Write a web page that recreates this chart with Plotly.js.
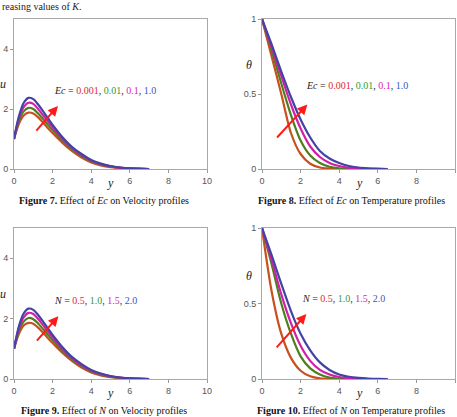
<!DOCTYPE html>
<html>
<head>
<meta charset="utf-8">
<script src="https://cdn.plot.ly/plotly-3.0.1.min.js"></script>
<style>html,body{margin:0;padding:0;background:#fff;}#chart{width:457px;height:417px;}</style>
</head>
<body>
<div id="chart"></div>
<script>
// ---------- data ----------
const etaU = [0,0.25,0.5,0.75,1,1.25,1.5,1.75,2,2.5,3,3.5,4,4.5,5,5.5,6,6.5,7];
// Figure 7: velocity, Ec = 0.001, 0.01, 0.1, 1.0
const u7_Ec0001 = [1,1.5,1.78,1.88,1.85,1.72,1.55,1.37,1.2,0.88,0.6,0.38,0.22,0.12,0.06,0.03,0.01,0.005,0];
const u7_Ec001  = [1,1.6,1.92,2.04,2.0,1.85,1.67,1.48,1.3,0.95,0.66,0.43,0.26,0.15,0.08,0.04,0.015,0.007,0];
const u7_Ec01   = [1,1.68,2.06,2.21,2.17,2.0,1.8,1.59,1.39,1.01,0.7,0.46,0.28,0.16,0.09,0.045,0.018,0.008,0];
const u7_Ec1    = [1,1.75,2.2,2.37,2.33,2.15,1.93,1.7,1.47,1.07,0.74,0.5,0.3,0.18,0.1,0.05,0.02,0.01,0];
// Figure 9: velocity, N = 0.5, 1.0, 1.5, 2.0
const u9_N05 = [1,1.49,1.77,1.86,1.83,1.7,1.54,1.36,1.19,0.87,0.6,0.38,0.22,0.12,0.06,0.03,0.01,0.005,0];
const u9_N10 = [1,1.58,1.9,2.02,1.98,1.84,1.66,1.47,1.29,0.94,0.65,0.42,0.25,0.14,0.08,0.04,0.015,0.007,0];
const u9_N15 = [1,1.67,2.04,2.19,2.15,1.99,1.79,1.58,1.38,1.0,0.69,0.45,0.27,0.16,0.09,0.045,0.018,0.008,0];
const u9_N20 = [1,1.74,2.17,2.33,2.29,2.12,1.91,1.68,1.46,1.06,0.73,0.49,0.3,0.18,0.1,0.05,0.02,0.01,0];

const etaT = [0,0.5,1,1.5,2,2.5,3,3.5,4,4.5,5,5.5,6,6.5];
// Figure 8: temperature, Ec
const t8_Ec0001 = [1,0.75,0.5,0.24,0.1,0.035,0.01,0.003,0,0,0,0,0,0];
const t8_Ec001  = [1,0.79,0.57,0.36,0.19,0.09,0.04,0.015,0.005,0.001,0,0,0,0];
const t8_Ec01   = [1,0.81,0.62,0.43,0.27,0.15,0.08,0.04,0.02,0.008,0.003,0.001,0,0];
const t8_Ec1    = [1,0.83,0.65,0.48,0.33,0.21,0.12,0.07,0.04,0.02,0.01,0.005,0.002,0];
// Figure 10: temperature, N
const t10_N05 = [1,0.58,0.3,0.14,0.055,0.018,0.004,0,0,0,0,0,0,0];
const t10_N10 = [1,0.76,0.5,0.3,0.15,0.07,0.03,0.01,0.003,0,0,0,0,0];
const t10_N15 = [1,0.79,0.56,0.37,0.22,0.12,0.06,0.03,0.013,0.005,0.002,0,0,0];
const t10_N20 = [1,0.82,0.63,0.45,0.3,0.19,0.11,0.06,0.03,0.015,0.007,0.003,0.001,0];

const xTicks = [0,2,4,6,8,10];
const uTicks = [0,2,4];
const tTicks = [0,0.5,1];

const captions = ["<b>Figure 7.</b> Effect of <i>Ec</i> on Velocity profiles",
                  "<b>Figure 8.</b> Effect of <i>Ec</i> on Temperature profiles",
                  "<b>Figure 9.</b> Effect of <i>N</i> on Velocity profiles",
                  "<b>Figure 10.</b> Effect of <i>N</i> on Temperature profiles"];

// ---------- styling ----------
const lineColors = ['#c8501e','#4d7f1f','#d21fa8','#4343a3'];
const txtColors  = ['#e02a2a','#2f9a2f','#e024b4','#3a55c4'];
const W = 457, H = 417;
const px = v => v / W, py = v => 1 - v / H;

function tr(x, y, c, xa, ya) {
  return {x: x, y: y, type: 'scatter', mode: 'lines', xaxis: xa, yaxis: ya,
          line: {color: c, width: 2.2, shape: 'spline', smoothing: 0.8},
          showlegend: false, hoverinfo: 'skip'};
}
const data = [
  tr(etaU,u7_Ec0001,lineColors[0],'x','y'), tr(etaU,u7_Ec001,lineColors[1],'x','y'),
  tr(etaU,u7_Ec01,lineColors[2],'x','y'), tr(etaU,u7_Ec1,lineColors[3],'x','y'),
  tr(etaT,t8_Ec0001,lineColors[0],'x2','y2'), tr(etaT,t8_Ec001,lineColors[1],'x2','y2'),
  tr(etaT,t8_Ec01,lineColors[2],'x2','y2'), tr(etaT,t8_Ec1,lineColors[3],'x2','y2'),
  tr(etaU,u9_N05,lineColors[0],'x3','y3'), tr(etaU,u9_N10,lineColors[1],'x3','y3'),
  tr(etaU,u9_N15,lineColors[2],'x3','y3'), tr(etaU,u9_N20,lineColors[3],'x3','y3'),
  tr(etaT,t10_N05,lineColors[0],'x4','y4'), tr(etaT,t10_N10,lineColors[1],'x4','y4'),
  tr(etaT,t10_N15,lineColors[2],'x4','y4'), tr(etaT,t10_N20,lineColors[3],'x4','y4')
];

const tickFont = {family: 'Liberation Sans, Arial, sans-serif', size: 9, color: '#555'};
function xax(dom, anchor) {
  return {domain: dom, anchor: anchor, range: [0,10], tickvals: xTicks, ticks: 'outside', ticklen: 3,
          tickcolor: '#999', showline: true, mirror: true, linecolor: '#a8a8a8', linewidth: 1,
          showgrid: false, zeroline: false, tickfont: tickFont, fixedrange: true};
}
function yax(dom, anchor, rng, tv) {
  return {domain: dom, anchor: anchor, range: rng, tickvals: tv, ticks: 'outside', ticklen: 3,
          tickcolor: '#999', showline: true, mirror: true, linecolor: '#a8a8a8', linewidth: 1,
          showgrid: false, zeroline: false, tickfont: tickFont, fixedrange: true};
}
const dxL = [px(14), px(207)], dxR = [px(262), Math.min(1, px(455))];
const dyT = [py(169), py(19)], dyB = [py(379), py(228)];

const serif = 'Liberation Serif, Times New Roman, serif';
function legendText(sym, vals) {
  return '<i>' + sym + '</i> = ' + vals.map((v,i) => '<span style="color:' + txtColors[i] + '">' + v + '</span>').join(', ');
}
function arrow(xr, yr, x0, y0, x1, y1) {
  return {xref: xr, yref: yr, axref: xr, ayref: yr, x: x1, y: y1, ax: x0, ay: y0, text: '',
          showarrow: true, arrowhead: 2, arrowsize: 1, arrowwidth: 2, arrowcolor: '#ff1a1a'};
}
function lbl(xr, yr, x, y, t, opt) {
  return Object.assign({xref: xr, yref: yr, x: x, y: y, text: t, showarrow: false,
          xanchor: 'center', yanchor: 'middle',
          font: {family: serif, size: 10, color: '#222'}}, opt || {});
}
const capFont = {family: serif, size: 10, color: '#111'};
const axFont = {family: serif, size: 12, color: '#222'};
const annotations = [
  // legends
  lbl('x','y',1.97,2.63,legendText('Ec',['0.001','0.01','0.1','1.0']),{xanchor:'left'}),
  lbl('x2','y2',2.18,0.56,legendText('Ec',['0.001','0.01','0.1','1.0']),{xanchor:'left'}),
  lbl('x3','y3',1.97,2.61,legendText('N',['0.5','1.0','1.5','2.0']),{xanchor:'left'}),
  lbl('x4','y4',1.95,0.53,legendText('N',['0.5','1.0','1.5','2.0']),{xanchor:'left'}),
  // arrows
  arrow('x','y',1.09,1.23,2.28,2.1),
  arrow('x2','y2',0.71,0.2,2.35,0.43),
  arrow('x3','y3',1.12,1.22,2.3,2.08),
  arrow('x4','y4',0.69,0.2,2.3,0.43),
  // axis titles
  lbl('paper','paper',px(3),py(84),'<i>u</i>',{font:axFont}),
  lbl('paper','paper',px(3),py(294),'<i>u</i>',{font:axFont}),
  lbl('paper','paper',px(249),py(65),'<i>θ</i>',{font:axFont}),
  lbl('paper','paper',px(249),py(276),'<i>θ</i>',{font:axFont}),
  lbl('paper','paper',px(110),py(183),'<i>y</i>',{font:axFont}),
  lbl('paper','paper',px(359),py(183),'<i>y</i>',{font:axFont}),
  lbl('paper','paper',px(110),py(393),'<i>y</i>',{font:axFont}),
  lbl('paper','paper',px(359),py(393),'<i>y</i>',{font:axFont}),
  // captions
  lbl('paper','paper',px(104),py(200),captions[0],{font:capFont}),
  lbl('paper','paper',px(351),py(200),captions[1],{font:capFont}),
  lbl('paper','paper',px(104),py(410),captions[2],{font:capFont}),
  lbl('paper','paper',px(351),py(410),captions[3],{font:capFont}),
  // running text at top (continuation of the page text)
  lbl('paper','paper',px(0),py(6),'reasing values of <i>K</i>.',{xanchor:'left',font:{family:serif,size:10,color:'#222'}})
];

const layout = {
  width: W, height: H, margin: {l:0, r:0, t:0, b:0},
  paper_bgcolor: '#fff', plot_bgcolor: '#fff', showlegend: false,
  xaxis: xax(dxL,'y'), yaxis: yax(dyT,'x',[0,5],uTicks),
  xaxis2: xax(dxR,'y2'), yaxis2: yax(dyT,'x2',[0,1],tTicks),
  xaxis3: xax(dxL,'y3'), yaxis3: yax(dyB,'x3',[0,5],uTicks),
  xaxis4: xax(dxR,'y4'), yaxis4: yax(dyB,'x4',[0,1],tTicks),
  annotations: annotations
};
Plotly.newPlot('chart', data, layout, {staticPlot: true, displayModeBar: false});
</script>
</body>
</html>
